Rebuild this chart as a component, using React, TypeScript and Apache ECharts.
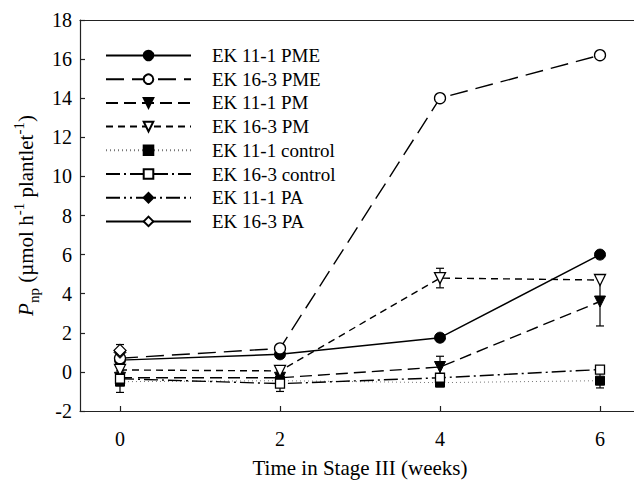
import React, { useEffect, useRef } from "react";
import * as echarts from "echarts";

const weeks = [0, 2, 4, 6];
const xTickLabels = ["0", "2", "4", "6"];
const seriesNames = [
  "EK 11-1 PME",
  "EK 16-3 PME",
  "EK 11-1 PM",
  "EK 16-3 PM",
  "EK 11-1 control",
  "EK 16-3 control",
  "EK 11-1 PA",
  "EK 16-3 PA",
];
const ek111PME = [0.6, 0.9, 1.75, 6.0];
const ek163PME = [0.7, 1.2, 14.0, 16.2];
const ek111PM = [-0.3, -0.3, 0.25, 3.6];
const ek163PM = [0.1, 0.05, 4.8, 4.7];
const ek111Control = [-0.5, -0.45, -0.55, -0.45];
const ek163Control = [-0.35, -0.6, -0.3, 0.12];
const ek111PA = [1.0, null, null, null];
const ek163PA = [1.1, null, null, null];
// error bars: [week, value, half-width]
const errorBars: [number, number, number][] = [
  [0, 1.1, 0.3],
  [0, -0.5, 0.55],
  [2, 0.05, 0.25],
  [2, -0.6, 0.4],
  [4, 4.8, 0.5],
  [4, 0.25, 0.55],
  [4, -0.55, 0.15],
  [6, 3.6, 1.25],
  [6, -0.45, 0.37],
  [6, 0.12, 0.2],
];

const FONT = "Liberation Serif";

export default function App() {
  const ref = useRef<HTMLDivElement>(null);
  useEffect(() => {
    if (!ref.current) return;
    document.body.style.margin = "0";
    const chart = echarts.init(ref.current, null, { renderer: "svg" });
    const pair = (arr: (number | null)[]) =>
      weeks.map((w, i) => (arr[i] === null ? [w, null] : [w, arr[i]]));
    const open = { color: "#fff", borderColor: "#000", borderWidth: 1.3 };
    const filled = { color: "#000", borderColor: "#000", borderWidth: 1 };
    const mk = (
      name: string,
      arr: (number | null)[],
      symbol: string,
      size: number,
      itemStyle: any,
      lineType: any,
      lineColor = "#000",
      lineWidth = 1.4
    ) => ({
      name,
      type: "line",
      data: pair(arr),
      symbol,
      symbolSize: size,
      showAllSymbol: true,
      connectNulls: false,
      itemStyle,
      lineStyle: { color: lineColor, width: lineWidth, type: lineType },
      z: 3,
    });
    const tri = "path://M0,0 L10,0 L5,9 Z";
    chart.setOption({
      animation: false,
      backgroundColor: "#fff",
      textStyle: { fontFamily: FONT },
      grid: {
        left: 80,
        top: 20,
        width: 560,
        height: 391,
        outerBoundsMode: "none",
        containLabel: false,
        show: false,
      },
      legend: {
        orient: "vertical",
        left: 100,
        top: 41,
        itemWidth: 85,
        itemHeight: 12,
        itemGap: 4.7,
        data: seriesNames,
        textStyle: {
          fontFamily: FONT,
          fontSize: 19,
          color: "#000",
          padding: [0, 0, 0, 16],
        },
      },
      xAxis: [
        {
          type: "value",
          min: -0.5,
          max: 6.5,
          name: "Time in Stage III (weeks)",
          nameLocation: "middle",
          nameGap: 46,
          nameTextStyle: { fontFamily: FONT, fontSize: 21, color: "#000" },
          axisLine: { onZero: false, lineStyle: { color: "#222", width: 1.2 } },
          axisTick: {
            inside: true,
            length: 5,
            customValues: weeks,
            lineStyle: { color: "#222", width: 1.2 },
          },
          axisLabel: {
            customValues: weeks,
            formatter: (v: number) => xTickLabels[weeks.indexOf(v)] ?? "",
            fontFamily: FONT,
            fontSize: 20,
            color: "#000",
            margin: 18,
          },
          splitLine: { show: false },
        },
        {
          type: "value",
          position: "top",
          min: -0.5,
          max: 6.5,
          axisLine: { show: true, onZero: false, lineStyle: { color: "#222", width: 1.2 } },
          axisTick: { show: false },
          axisLabel: { show: false },
          splitLine: { show: false },
        },
      ],
      yAxis: {
        type: "value",
        min: -2,
        max: 18,
        interval: 2,
        name: "{p|P}{sub|np}{n| (µmol h}{sup|-1}{n| plantlet}{sup|-1}{n|)}",
        nameLocation: "middle",
        nameRotate: 90,
        nameGap: 32,
        nameTextStyle: {
          color: "#000",
          rich: {
            p: { fontFamily: FONT, fontSize: 21, fontStyle: "italic", lineHeight: 30, verticalAlign: "middle", color: "#000" },
            n: { fontFamily: FONT, fontSize: 21, lineHeight: 30, verticalAlign: "middle", color: "#000" },
            sub: { fontFamily: FONT, fontSize: 15, lineHeight: 15, verticalAlign: "bottom", color: "#000" },
            sup: { fontFamily: FONT, fontSize: 15, lineHeight: 15, verticalAlign: "top", color: "#000" },
          },
        },
        axisLine: { show: true, onZero: false, lineStyle: { color: "#222", width: 1.2 } },
        axisTick: { show: true, inside: true, length: 5, lineStyle: { color: "#222", width: 1.2 } },
        axisLabel: { fontFamily: FONT, fontSize: 20, color: "#000", margin: 8 },
        splitLine: { show: false },
      },
      series: [
        mk(seriesNames[0], ek111PME, "circle", 11, filled, "solid"),
        mk(seriesNames[1], ek163PME, "circle", 11, open, [18, 8]),
        mk(seriesNames[2], ek111PM, tri, 11, filled, [12, 6]),
        mk(seriesNames[3], ek163PM, tri, 11, open, [7, 5]),
        mk(seriesNames[4], ek111Control, "rect", 9, filled, [1, 3], "#777", 1),
        mk(seriesNames[5], ek163Control, "rect", 9, open, [14, 4, 2, 4]),
        mk(seriesNames[6], ek111PA, "diamond", 12, filled, [14, 4, 2, 4, 2, 4]),
        mk(seriesNames[7], ek163PA, "diamond", 12, open, "solid"),
        {
          name: "errors",
          type: "custom",
          z: 2,
          data: errorBars.map((e) => [e[0], e[1] - e[2], e[1] + e[2]]),
          renderItem: (params: any, api: any) => {
            const x = api.value(0);
            const lo = api.coord([x, api.value(1)]);
            const hi = api.coord([x, api.value(2)]);
            const cw = 4;
            const st = { stroke: "#000", lineWidth: 1.2 };
            return {
              type: "group",
              children: [
                { type: "line", shape: { x1: lo[0], y1: lo[1], x2: hi[0], y2: hi[1] }, style: st },
                { type: "line", shape: { x1: lo[0] - cw, y1: lo[1], x2: lo[0] + cw, y2: lo[1] }, style: st },
                { type: "line", shape: { x1: hi[0] - cw, y1: hi[1], x2: hi[0] + cw, y2: hi[1] }, style: st },
              ],
            };
          },
        },
      ],
    });
    return () => chart.dispose();
  }, []);
  return <div ref={ref} style={{ width: 634, height: 485 }} />;
}
